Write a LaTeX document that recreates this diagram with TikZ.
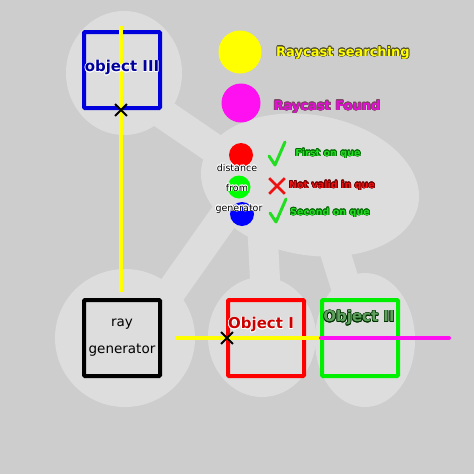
\documentclass[tikz,border=0pt]{standalone}
\usepackage{fontspec}
\setmainfont{DejaVu Sans}
\usepackage[copies]{contour}
\usetikzlibrary{positioning, calc, shapes.misc}

\definecolor{bggray}{HTML}{CDCDCD}
\definecolor{blobgray}{HTML}{DDDDDD}
\definecolor{rayyellow}{HTML}{FFFF00}
\definecolor{raymagenta}{HTML}{FF10F0}
\definecolor{boxblue}{HTML}{0000DD}
\definecolor{boxred}{HTML}{FF0000}
\definecolor{boxgreen}{HTML}{00EE00}
\definecolor{okgreen}{HTML}{22DD22}
\definecolor{badred}{HTML}{EE1111}
\definecolor{dullgreen}{HTML}{5FA05F}

\contourlength{0.6pt}

\begin{document}
\begin{tikzpicture}[
    x=1pt, y=-1pt,
    box/.style={
      draw, line width=4pt,
      minimum size=76pt,
      rounded corners=1pt
    },
    blob/.style={fill=blobgray},
    band/.style={draw=blobgray, line width=30pt},
    ray/.style={draw=rayyellow, line width=4pt},
    found/.style={draw=raymagenta, line width=4pt, line cap=round},
    hit/.style={cross out, draw, line width=1.8pt, minimum size=10pt, inner sep=0pt},
    lbl/.style={font=\bfseries\fontsize{15}{17}\selectfont, inner sep=0pt},
    key/.style={font=\bfseries\fontsize{9.6}{12}\selectfont, inner sep=0pt},
    big/.style={font=\bfseries\fontsize{13}{15}\selectfont, inner sep=0pt},
    small/.style={font=\fontsize{9.5}{11}\selectfont, inner sep=0pt},
    dot/.style={circle, inner sep=0pt},
    okmark/.pic={
      \draw[okgreen, line width=3pt, line cap=round, line join=round]
        (-6,-9) -- (0,0) -- (10,-23);
    }
  ]
  \useasboundingbox (0,0) rectangle (474,474);
  \fill[bggray] (0,0) rectangle (474,474);

  % light background shapes
  \draw[band] (150,105) -- (260,180);
  \draw[band] (225,215) -- (165,300);
  \draw[band] (262,220) -- (266,300);
  \draw[band] (325,220) -- (350,300);
  \fill[blob, rotate around={-10:(310,185)}] (310,185) ellipse [x radius=110, y radius=70];
  \fill[blob] (124,73) ellipse [x radius=58, y radius=62];
  \fill[blob] (125,338) ellipse [x radius=70, y radius=69];
  \fill[blob] (262,337) ellipse [x radius=54, y radius=60];
  \fill[blob] (365,340) ellipse [x radius=50, y radius=67];

  % objects
  \node[box, draw=boxblue] (obj3) at (122,70) {};
  \node[box, draw=black, align=center, font=\fontsize{13.5}{27}\selectfont] (rg) at (122,338) {ray\\generator};
  \node[box, draw=boxred] (obj1) at (266,338) {};
  \node[box, draw=boxgreen] (obj2) at (360,338) {};

  % rays
  \coordinate (vtop) at (121,26);
  \coordinate (hstart) at (176,338);
  \coordinate (hit2) at (321,338);
  \coordinate (hend) at (449,338);
  \draw[ray] ($(rg.north)+(-1,-6)$) -- (vtop);
  \draw[ray] (hstart) -- (hit2);
  \draw[found] (hit2) -- (hend);

  \node[lbl, text=boxblue!70!black] (l3) at (122,68) {\contour{white}{object III}};
  \node[lbl, text=boxred!80!black] (l1) at (261,325) {\contour{white}{Object I}};
  \node[lbl] (l2) at (359,318) {\contour{green!20!black}{\textcolor{dullgreen}{Object II}}};

  \node[hit] (x3) at (121,110) {};
  \node[hit] (x1) at (227,338) {};

  % legend
  \node[dot, fill=rayyellow, minimum size=43pt] (kyellow) at (240,52) {};
  \node[big] (tyellow) at (343,53)
    {\contour{black!60!olive}{\textcolor{rayyellow}{Raycast searching}}};
  \node[dot, fill=raymagenta, minimum size=39pt] (kmagenta) at (241,103) {};
  \node[big] (tmagenta) at (327,107)
    {\contour{black!60!magenta}{\textcolor{raymagenta!90!black}{Raycast Found}}};

  \node[dot, fill=red, minimum size=24pt] (kred) at (241,155) {};
  \node[dot, fill=green, minimum size=23pt] (kgreen) at (239,187) {};
  \node[dot, fill=blue, minimum size=24pt] (kblue) at (242,214) {};
  \node[small] (tdist) at (237,168) {\contour{white}{distance}};
  \node[small] (tfrom) at (237,188) {\contour{white}{from}};
  \node[small] (tgen) at (239,209) {\contour{white}{generator}};

  \pic at (275,165) {okmark};
  \node[cross out, draw=badred, line width=2.6pt, minimum size=13pt, inner sep=0pt] (kbad) at (277,186) {};
  \pic at (276,222) {okmark};
  \node[key] (tfirst) at (328,154) {\contour{green!40!black}{\textcolor{okgreen}{First on que}}};
  \node[key] (tnot) at (332,186) {\contour{red!40!black}{\textcolor{badred}{Not valid in que}}};
  \node[key] (tsecond) at (330,213) {\contour{green!40!black}{\textcolor{okgreen}{Second on que}}};
\end{tikzpicture}
\end{document}
